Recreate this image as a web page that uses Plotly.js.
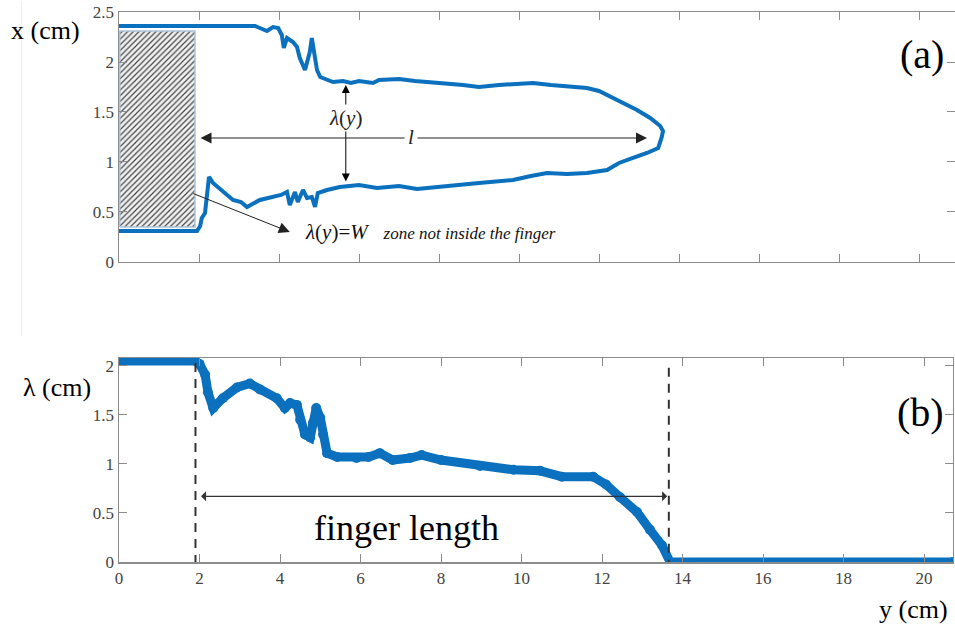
<!DOCTYPE html>
<html><head><meta charset="utf-8">
<script src="https://cdn.plot.ly/plotly-3.0.1.min.js"></script>
<style>body{margin:0;background:#fff}#c{width:955px;height:629px}</style>
</head><body><div id="c"></div>
<script>
// Panel (a): finger contour
const upperX = [0, 3.4, 3.52, 3.7, 3.85, 3.98, 4.07, 4.12, 4.2, 4.35, 4.45, 4.52, 4.65, 4.77, 4.82, 4.88, 4.95, 5.03, 5.2, 5.35, 5.6, 5.8, 6.0, 6.2, 6.35, 6.5, 7.0, 7.4, 7.85, 8.3, 8.6, 9.0, 9.5, 10.0, 10.35, 10.8, 11.2, 11.7, 12.0, 12.2, 12.6, 12.95, 13.28, 13.53, 13.6];
const upperY = [2.36, 2.36, 2.34, 2.31, 2.35, 2.34, 2.27, 2.14, 2.24, 2.20, 2.15, 2.04, 1.92, 2.10, 2.24, 2.10, 1.92, 1.85, 1.82, 1.80, 1.81, 1.79, 1.81, 1.80, 1.79, 1.82, 1.83, 1.81, 1.79, 1.78, 1.77, 1.75, 1.77, 1.78, 1.79, 1.77, 1.76, 1.74, 1.71, 1.67, 1.59, 1.52, 1.44, 1.36, 1.31];
const lowerX = [0, 1.95, 2.03, 2.07, 2.15, 2.25, 2.35, 2.6, 2.85, 3.05, 3.2, 3.52, 3.85, 4.05, 4.2, 4.27, 4.4, 4.47, 4.6, 4.7, 4.82, 4.9, 4.97, 5.2, 5.52, 6.0, 6.45, 7.0, 7.45, 7.85, 8.5, 9.0, 9.85, 10.3, 10.7, 11.2, 11.7, 12.2, 12.5, 12.85, 13.2, 13.48, 13.57];
const lowerY = [0.31, 0.31, 0.36, 0.44, 0.49, 0.85, 0.79, 0.70, 0.62, 0.60, 0.55, 0.62, 0.65, 0.67, 0.70, 0.57, 0.70, 0.60, 0.72, 0.64, 0.65, 0.55, 0.69, 0.72, 0.75, 0.77, 0.74, 0.76, 0.73, 0.75, 0.77, 0.79, 0.82, 0.86, 0.89, 0.88, 0.89, 0.92, 0.99, 1.04, 1.09, 1.14, 1.25];
// Hatched zone (lambda = W)
const zoneX = [0.02, 1.9, 1.9, 0.02, 0.02];
const zoneY = [0.35, 0.35, 2.31, 2.31, 0.35];
// Panel (b): finger width lambda(y)
const lamX = [0, 1.9, 2.0, 2.14, 2.21, 2.34, 2.58, 2.93, 3.25, 3.5, 3.92, 4.12, 4.25, 4.42, 4.5, 4.62, 4.75, 4.82, 4.9, 5.0, 5.07, 5.17, 5.42, 5.9, 6.2, 6.48, 6.8, 7.23, 7.52, 8.0, 8.97, 9.8, 10.46, 11.0, 11.78, 12.1, 12.45, 12.87, 13.19, 13.49, 13.69, 20.72];
const lamY = [2.05, 2.05, 2.02, 1.91, 1.73, 1.57, 1.67, 1.78, 1.82, 1.76, 1.67, 1.57, 1.62, 1.60, 1.45, 1.30, 1.27, 1.42, 1.57, 1.47, 1.30, 1.11, 1.07, 1.06, 1.07, 1.11, 1.04, 1.06, 1.09, 1.04, 0.98, 0.94, 0.93, 0.87, 0.87, 0.79, 0.66, 0.51, 0.33, 0.17, 0.0, 0.0];
const fingerStart = 1.9, fingerEnd = 13.66;
const xTicks = [0, 2, 4, 6, 8, 10, 12, 14, 16, 18, 20];

const blue = '#0b70bd';
const contourX = upperX.concat(lowerX.slice().reverse());
const contourY = upperY.concat(lowerY.slice().reverse());

const traces = [
  {x: zoneX, y: zoneY, xaxis: 'x', yaxis: 'y', mode: 'lines', fill: 'toself',
   line: {color: '#a9c3dc', width: 1.5}, fillcolor: '#ffffff',
   fillpattern: {shape: '/', size: 4, solidity: 0.3, fgcolor: '#444444', bgcolor: '#f2f2f2'},
   hoverinfo: 'skip'},
  {x: contourX, y: contourY, xaxis: 'x', yaxis: 'y', mode: 'lines',
   line: {color: blue, width: 4}},
  {x: lamX, y: lamY, xaxis: 'x2', yaxis: 'y2', mode: 'lines+markers',
   line: {color: blue, width: 9}, marker: {color: blue, size: 10}},
  {x: [fingerStart, fingerStart], y: [2.03, -0.02], xaxis: 'x2', yaxis: 'y2', mode: 'lines',
   line: {color: '#333', width: 2, dash: '9px,7px'}},
  {x: [fingerEnd, fingerEnd], y: [1.98, -0.05], xaxis: 'x2', yaxis: 'y2', mode: 'lines',
   line: {color: '#333', width: 2, dash: '9px,7px'}}
];

const serif = "'Liberation Serif', 'Times New Roman', serif";
const tickFont = {family: serif, size: 17, color: '#444'};
const axCommon = {showgrid: false, zeroline: false, showline: true, linecolor: '#8c8c8c', linewidth: 1.5,
  mirror: 'ticks', ticks: 'inside', ticklen: 8, tickcolor: '#8c8c8c', tickfont: tickFont};

const layout = {
  width: 955, height: 629, showlegend: false,
  paper_bgcolor: '#fff', plot_bgcolor: '#fff',
  font: {family: serif},
  margin: {l: 119, r: 0, t: 12, b: 67},
  xaxis: Object.assign({}, axCommon, {domain: [0, 1], range: [0, 20.9], tickvals: xTicks, showticklabels: false, anchor: 'y'}),
  yaxis: Object.assign({}, axCommon, {domain: [0.5455, 1], range: [0, 2.5], tickvals: [0, 0.5, 1, 1.5, 2, 2.5], ticktext: ['0', '0.5', '1', '1.5', '2', '2.5'], anchor: 'x'}),
  xaxis2: Object.assign({}, axCommon, {domain: [0, 0.9976], range: [0, 20.72], tickvals: xTicks, anchor: 'y2'}),
  yaxis2: Object.assign({}, axCommon, {domain: [0, 0.3709], range: [0, 2.08], tickvals: [0, 0.5, 1, 1.5, 2], ticktext: ['0', '0.5', '1', '1.5', '2'], anchor: 'x2'}),
  shapes: [
    {type: 'line', xref: 'paper', yref: 'paper', x0: -0.1164, x1: -0.1164, y0: 0.41, y1: 1.02, line: {color: '#eeeeee', width: 1}}
  ],
  annotations: [
    {xref: 'paper', yref: 'paper', x: -0.131, y: 0.967, xanchor: 'left', yanchor: 'middle', text: 'x (cm)', showarrow: false, font: {family: serif, size: 26, color: '#000'}},
    {xref: 'paper', yref: 'paper', x: -0.117, y: 0.3175, xanchor: 'left', yanchor: 'middle', text: 'λ (cm)', showarrow: false, font: {family: serif, size: 26, color: '#000'}},
    {xref: 'paper', yref: 'paper', x: 0.994, y: -0.087, xanchor: 'right', yanchor: 'middle', text: 'y (cm)', showarrow: false, font: {family: serif, size: 26, color: '#000'}},
    {xref: 'paper', yref: 'paper', x: 0.989, y: 0.922, xanchor: 'right', yanchor: 'middle', text: '(a)', showarrow: false, font: {family: serif, size: 40, color: '#000'}},
    {xref: 'paper', yref: 'paper', x: 0.989, y: 0.271, xanchor: 'right', yanchor: 'middle', text: '(b)', showarrow: false, font: {family: serif, size: 40, color: '#000'}},
    // panel (a) arrows
    {xref: 'x', yref: 'y', axref: 'x', ayref: 'y', x: 5.67, y: 1.77, ax: 5.67, ay: 0.79, text: '', showarrow: true, arrowside: 'end+start', arrowhead: 2, startarrowhead: 2, arrowsize: 1.6, startarrowsize: 1.6, arrowwidth: 1, arrowcolor: '#000', standoff: 0, startstandoff: 0},
    {xref: 'x', yref: 'y', axref: 'x', ayref: 'y', x: 13.2, y: 1.24, ax: 2.0, ay: 1.24, text: '', showarrow: true, arrowside: 'end+start', arrowhead: 2, startarrowhead: 2, arrowsize: 2.2, startarrowsize: 2.2, arrowwidth: 1, arrowcolor: '#222', standoff: 0, startstandoff: 0},
    {xref: 'x', yref: 'y', x: 5.67, y: 1.44, text: '<i>λ</i>(<i>y</i>)', showarrow: false, bgcolor: '#fff', font: {family: serif, size: 21, color: '#222'}},
    {xref: 'x', yref: 'y', x: 7.3, y: 1.25, text: '<i>l</i>', showarrow: false, bgcolor: '#fff', borderpad: 3, font: {family: serif, size: 21, color: '#222'}},
    {xref: 'x', yref: 'y', axref: 'x', ayref: 'y', x: 4.27, y: 0.30, ax: 1.82, ay: 0.69, text: '', showarrow: true, arrowhead: 2, arrowsize: 2.2, arrowwidth: 1, arrowcolor: '#222', standoff: 0},
    {xref: 'x', yref: 'y', x: 4.6, y: 0.3, xanchor: 'left', yanchor: 'middle', showarrow: false,
     text: '<i>λ</i>(<i>y</i>)=<i>W</i>&nbsp;&nbsp;&nbsp;<span style="font-size:17px"><i>zone not inside the finger</i></span>',
     font: {family: serif, size: 21, color: '#111'}},
    // panel (b) finger length arrow
    {xref: 'x2', yref: 'y2', axref: 'x2', ayref: 'y2', x: 13.62, y: 0.67, ax: 2.0, ay: 0.67, text: '', showarrow: true, arrowside: 'end+start', arrowhead: 1, startarrowhead: 1, arrowsize: 1.3, startarrowsize: 1.3, arrowwidth: 1.3, arrowcolor: '#333', standoff: 0, startstandoff: 0},
    {xref: 'x2', yref: 'y2', x: 7.15, y: 0.35, text: 'finger length', showarrow: false, font: {family: serif, size: 36, color: '#000'}}
  ]
};

Plotly.newPlot('c', traces, layout, {staticPlot: true, displayModeBar: false});
</script></body></html>
